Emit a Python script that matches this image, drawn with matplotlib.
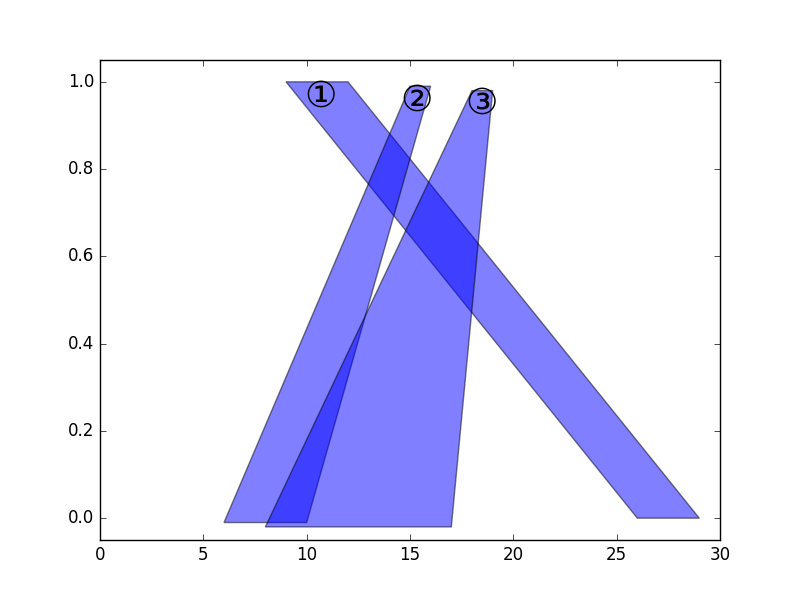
import matplotlib
matplotlib.use('Agg')
import matplotlib.pyplot as plt
from matplotlib.patches import Polygon

plt.style.use('classic')

# quadrilateral corners (x, y) for each shape
shape1_x = [9, 12, 29, 26]
shape1_y = [1.0, 1.0, 0.0, 0.0]
shape2_x = [6, 10, 16, 15]
shape2_y = [-0.01, -0.01, 0.99, 0.99]
shape3_x = [8, 17, 19, 18]
shape3_y = [-0.02, -0.02, 0.98, 0.98]

labels = ['\u2460', '\u2461', '\u2462']
label_x = [10.65, 15.3, 18.45]
label_y = [0.967, 0.958, 0.951]

fig = plt.figure(figsize=(8, 6), dpi=100)
ax = fig.add_subplot(111)

for xs, ys in [(shape1_x, shape1_y), (shape2_x, shape2_y), (shape3_x, shape3_y)]:
    poly = Polygon(list(zip(xs, ys)), closed=True, facecolor='blue',
                   edgecolor='black', alpha=0.5, linewidth=1)
    ax.add_patch(poly)

for lab, lx, ly in zip(labels, label_x, label_y):
    ax.text(lx, ly, lab, ha='center', va='center', fontsize=26,
            family=['DejaVu Sans', 'Noto Sans CJK JP'])

ax.set_xlim(0, 30)
ax.set_ylim(-0.05, 1.05)

fig.savefig('out.png', dpi=100, facecolor='white')
